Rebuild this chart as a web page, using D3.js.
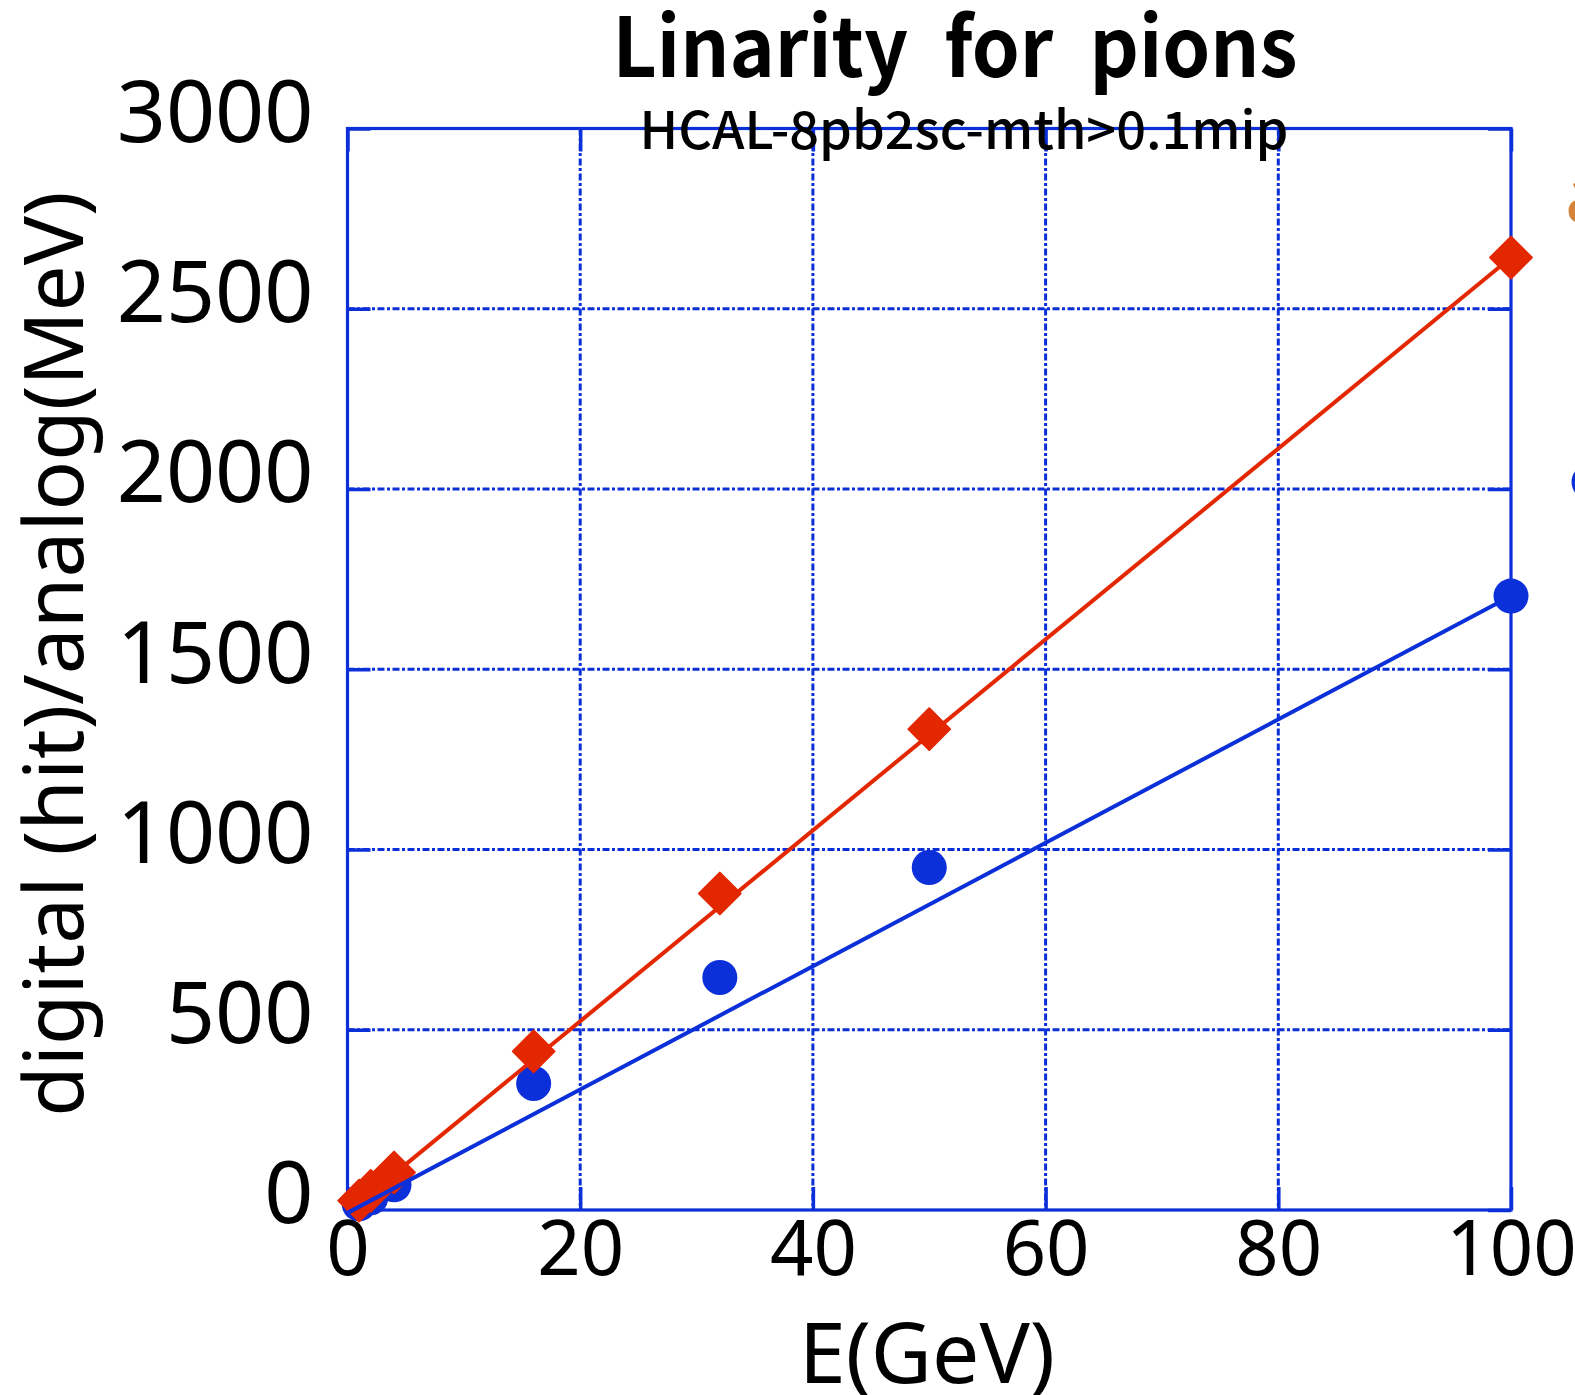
<!DOCTYPE html>
<html>
<head>
<meta charset="utf-8">
<script src="https://cdn.jsdelivr.net/npm/d3@7"></script>
<style>
  html, body { margin: 0; padding: 0; background: #fff; overflow: hidden; }
  svg { display: block; }
</style>
</head>
<body>
<svg id="chart" width="1575" height="1395"></svg>
<script>
// Beam energies (GeV) and measured responses
const energy = [1, 2, 4, 16, 32, 50, 100];
const analogMeV = [26, 53, 104, 440, 878, 1334, 2642];   // red diamonds
const digitalHits = [17, 34, 70, 351, 645, 950, 1703];   // blue circles

// Straight lines drawn over the points: [E, value] at each end
const analogLineE = [0, 100];
const analogLineV = [-6, 2642];
const digitalLineE = [0, 100];
const digitalLineV = [-8, 1703];

const xTicks = [0, 20, 40, 60, 80, 100];
const yTicks = [0, 500, 1000, 1500, 2000, 2500, 3000];

const titleText = "Linarity for pions";
const subtitleText = "HCAL-8pb2sc-mth>0.1mip";
const xTitle = "E(GeV)";
const yTitle = "digital (hit)/analog(MeV)";

const BLUE = "#0b2fd8";
const RED = "#e32700";
const ORANGE = "#d3833a";
const FONT = "'Noto Sans', 'DejaVu Sans', sans-serif";
const HEAD_FONT = "'Noto Sans CJK JP', 'Noto Sans', sans-serif";

const svg = d3.select("#chart");
const plotL = 347.5, plotR = 1511, plotT = 128.5, plotB = 1210;

const x = d3.scaleLinear().domain([0, 100]).range([plotL, plotR]);
const y = d3.scaleLinear().domain([0, 3000]).range([plotB, plotT]);

// dash-dot grid
const grid = svg.append("g").attr("stroke", BLUE).attr("stroke-width", 3)
  .attr("stroke-dasharray", "7,2.5,3,2.5").attr("fill", "none");
grid.selectAll("line.v").data(xTicks.slice(1, -1)).join("line").attr("class", "v")
  .attr("x1", d => x(d)).attr("x2", d => x(d)).attr("y1", plotT).attr("y2", plotB);
grid.selectAll("line.h").data(yTicks.slice(1, -1)).join("line").attr("class", "h")
  .attr("y1", d => y(d)).attr("y2", d => y(d)).attr("x1", plotL).attr("x2", plotR);

// axes with inward ticks on all four sides
const tickLen = 23;
function styleAxis(g) {
  g.select(".domain").remove();
  g.selectAll(".tick line").attr("stroke", BLUE).attr("stroke-width", 3.5);
}
const gx = svg.append("g").attr("transform", `translate(0,${plotB})`)
  .call(d3.axisBottom(x).tickValues(xTicks).tickFormat(d3.format("d"))
    .tickSizeInner(-tickLen).tickSizeOuter(0).tickPadding(11));
styleAxis(gx);
gx.selectAll("text").attr("font-family", FONT).attr("font-size", 76).attr("fill", "#000");

const gy = svg.append("g").attr("transform", `translate(${plotL},0)`)
  .call(d3.axisLeft(y).tickValues(yTicks).tickFormat(d3.format("d"))
    .tickSizeInner(-tickLen).tickSizeOuter(0).tickPadding(34));
styleAxis(gy);
gy.selectAll("text").attr("font-family", FONT).attr("font-size", 86).attr("fill", "#000")
  .attr("dy", "0.15em");

const gt = svg.append("g").attr("transform", `translate(0,${plotT})`)
  .call(d3.axisTop(x).tickValues(xTicks).tickSizeInner(-tickLen).tickSizeOuter(0).tickFormat(""));
styleAxis(gt);
const gr = svg.append("g").attr("transform", `translate(${plotR},0)`)
  .call(d3.axisRight(y).tickValues(yTicks).tickSizeInner(-tickLen).tickSizeOuter(0).tickFormat(""));
styleAxis(gr);

// plot frame
svg.append("rect").attr("x", plotL).attr("y", plotT)
  .attr("width", plotR - plotL).attr("height", plotB - plotT)
  .attr("fill", "none").attr("stroke", BLUE).attr("stroke-width", 3.2);

// digital points
svg.append("g").selectAll("circle").data(energy.map((e, i) => [e, digitalHits[i]])).join("circle")
  .attr("cx", d => x(d[0])).attr("cy", d => y(d[1])).attr("r", 17.5).attr("fill", BLUE);

// analog points (diamonds)
const diamond = d3.symbol().type(d3.symbolSquare).size(29.5 * 29.5);
svg.append("g").selectAll("path").data(energy.map((e, i) => [e, analogMeV[i]])).join("path")
  .attr("d", diamond)
  .attr("transform", d => `translate(${x(d[0])},${y(d[1])}) rotate(45)`)
  .attr("fill", RED).attr("stroke", RED).attr("stroke-width", 2).attr("stroke-linejoin", "round");

const line = d3.line().x(d => x(d[0])).y(d => y(d[1]));
svg.append("path").datum(analogLineE.map((e, i) => [e, analogLineV[i]]))
  .attr("d", line).attr("stroke", RED).attr("stroke-width", 4).attr("fill", "none");
svg.append("path").datum(digitalLineE.map((e, i) => [e, digitalLineV[i]]))
  .attr("d", line).attr("stroke", BLUE).attr("stroke-width", 4).attr("fill", "none");

// titles
svg.append("text").attr("x", 955).attr("y", 77).attr("text-anchor", "middle")
  .attr("font-family", HEAD_FONT).attr("font-weight", 700).attr("font-size", 82)
  .attr("textLength", 685).attr("lengthAdjust", "spacingAndGlyphs")
  .attr("word-spacing", 20).text(titleText);
svg.append("text").attr("x", 964).attr("y", 149).attr("text-anchor", "middle")
  .attr("font-family", HEAD_FONT).attr("font-weight", 500).attr("font-size", 52)
  .attr("textLength", 649).attr("lengthAdjust", "spacingAndGlyphs").text(subtitleText);

svg.append("text").attr("x", 927).attr("y", 1383).attr("text-anchor", "middle")
  .attr("font-family", FONT).attr("font-size", 84).text(xTitle);
svg.append("text").attr("transform", "translate(83,654) rotate(-90)").attr("text-anchor", "middle")
  .attr("font-family", FONT).attr("font-size", 82).text(yTitle);

// legend, beyond the right edge of the page
svg.append("text").attr("x", 1565).attr("y", 222).attr("font-family", FONT)
  .attr("font-size", 77).attr("fill", ORANGE).text("analog");
svg.append("circle").attr("cx", 1589).attr("cy", 482).attr("r", 17.5).attr("fill", BLUE);
</script>
</body>
</html>
